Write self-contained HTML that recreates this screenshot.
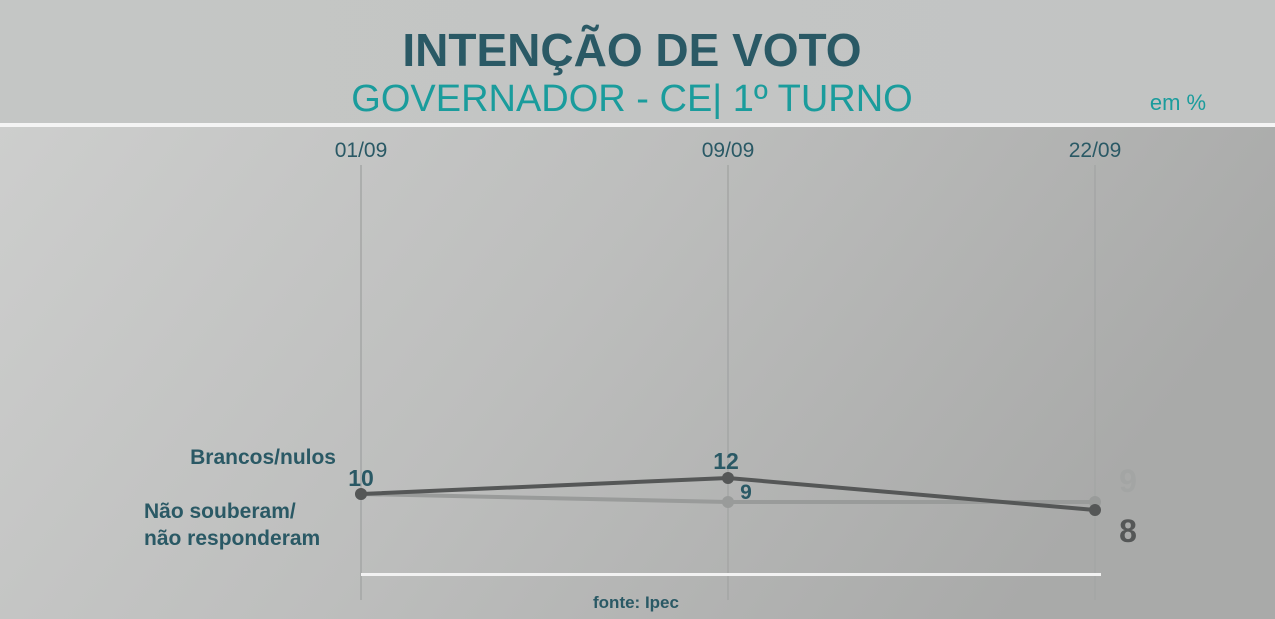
<!DOCTYPE html>
<html><head><meta charset="utf-8"><style>
html,body{margin:0;padding:0;width:1275px;height:619px;overflow:hidden}
svg{display:block;font-family:"Liberation Sans","DejaVu Sans",sans-serif}
</style></head><body>
<svg width="1275" height="619" viewBox="0 0 1275 619">
<defs>
<linearGradient id="hd" x1="0" y1="0" x2="1" y2="0"><stop offset="0" stop-color="#c4c6c5"/><stop offset="1" stop-color="#c2c4c3"/></linearGradient>
<linearGradient id="bd" x1="0" y1="0" x2="1" y2="0.3"><stop offset="0" stop-color="#cdcecd"/><stop offset="0.5" stop-color="#bdbebd"/><stop offset="1" stop-color="#a9aaa9"/></linearGradient>
</defs>
<rect x="0" y="0" width="1275" height="125" fill="url(#hd)"/>
<rect x="0" y="125" width="1275" height="494" fill="url(#bd)"/>
<rect x="0" y="123" width="1275" height="4" fill="#f4f4f4"/>
<text x="632" y="66" text-anchor="middle" font-size="46" font-weight="bold" fill="#2a5965">INTENÇÃO DE VOTO</text>
<text x="632" y="111" text-anchor="middle" font-size="38" fill="#1a9c9c">GOVERNADOR - CE| 1º TURNO</text>
<text x="1178" y="110" text-anchor="middle" font-size="22" fill="#1a9c9c">em %</text>
<g id="grid"></g>
<rect x="361" y="573" width="740" height="3" fill="#f2f2f2"/>
<text x="636" y="608" text-anchor="middle" font-size="17" font-weight="bold" fill="#2a5965">fonte: Ipec</text>
<text x="336" y="464" text-anchor="end" font-size="21" font-weight="bold" fill="#2a5965">Brancos/nulos</text>
<text x="144" y="518" font-size="21" font-weight="bold" fill="#2a5965">Não souberam/</text>
<text x="144" y="545" font-size="21" font-weight="bold" fill="#2a5965">não responderam</text>
<g id="series"></g>
</svg>
<script>
const dates = ["01/09","09/09","22/09"];
const brancos = [10,12,8];
const naoSouberam = [10,9,9];
const NS="http://www.w3.org/2000/svg";
const xPos = i => 361 + i*367;
const yPos = v => 494 - (v-10)*8;
function mk(tag, attrs, parent){const e=document.createElementNS(NS,tag);for(const k in attrs)e.setAttribute(k,attrs[k]);parent.appendChild(e);return e;}
const grid=document.getElementById('grid'), ser=document.getElementById('series');
dates.forEach((d,i)=>{
  const l=mk('line',{x1:xPos(i),x2:xPos(i),y1:165,y2:600,stroke:'#a4a6a5','stroke-width':1.5},grid);
  
  
  const t=mk('text',{x:xPos(i),y:157,'text-anchor':'middle','font-size':21,fill:'#2a5965'},grid);
  t.textContent=d;
  
  
});
function drawSeries(vals,color,name){
  const p=mk('polyline',{points:vals.map((v,i)=>xPos(i)+','+yPos(v)).join(' '),fill:'none',stroke:color,'stroke-width':4},ser);
  
  
  vals.forEach((v,i)=>{
    const c=mk('circle',{cx:xPos(i),cy:yPos(v),r:6,fill:color},ser);
    
    
  });
}
drawSeries(naoSouberam,'#999b9a','nao-souberam');
drawSeries(brancos,'#555757','brancos-nulos');
function lbl(x,y,txt,size,color,name){
  const t=mk('text',{x:x,y:y,'font-size':size,'font-weight':'bold',fill:color,'text-anchor':'middle'},ser);
  t.textContent=txt;
  
  
}
lbl(xPos(0),yPos(brancos[0])-8,brancos[0],23,'#2a5965','value-label');
lbl(xPos(1)-2,yPos(brancos[1])-9,brancos[1],23,'#2a5965','value-label');
lbl(xPos(1)+18,yPos(naoSouberam[1])-3,naoSouberam[1],21,'#2a5965','value-label');
lbl(xPos(2)+33,yPos(naoSouberam[2])-10,naoSouberam[2],32,'#a3a5a4','value-label');
lbl(xPos(2)+33,yPos(brancos[2])+32,brancos[2],32,'#555757','value-label');
</script>
</body></html>
